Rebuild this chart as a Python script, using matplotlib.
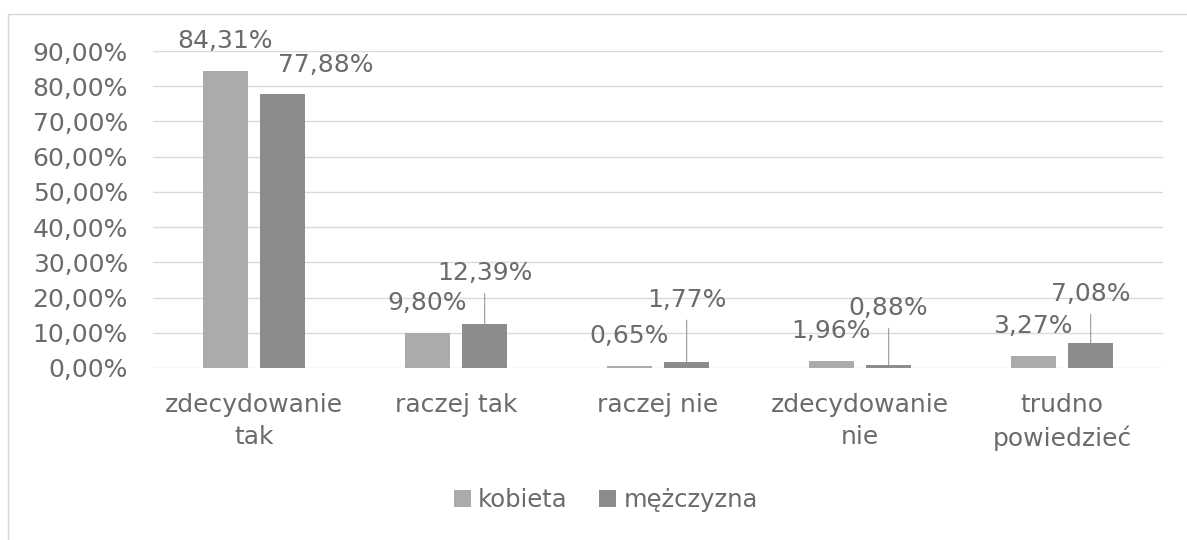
import matplotlib
matplotlib.use("Agg")
import matplotlib.pyplot as plt
from matplotlib.patches import Rectangle
import numpy as np

# Data
categories = ["zdecydowanie\ntak", "raczej tak", "raczej nie", "zdecydowanie\nnie", "trudno\npowiedzieć"]
kobieta = [84.31, 9.80, 0.65, 1.96, 3.27]
mezczyzna = [77.88, 12.39, 1.77, 0.88, 7.08]
series_names = ["kobieta", "mężczyzna"]

# label offsets in pixels (dx, dy) from bar top to label centre for men's series
m_offsets = [(43, 29), (0, 51), (0, 62), (0, 57), (0, 49)]
m_leader = [False, True, True, True, True]

txt = "#6b6b6b"
col_k = "#ababab"
col_m = "#8c8c8c"
fs = 18

fig = plt.figure(figsize=(11.87, 5.4), dpi=100)
ax = fig.add_axes([153/1187, 1-368/540, 1010/1187, 317/540])

x = np.arange(len(categories))
w = 0.22
off = 0.142
ax.bar(x - off, kobieta, w, color=col_k, label=series_names[0], zorder=3)
ax.bar(x + off, mezczyzna, w, color=col_m, label=series_names[1], zorder=3)

ax.set_xlim(-0.5, len(categories) - 0.5)
ax.set_ylim(0, 90)
ax.set_yticks(np.arange(0, 91, 10))
ax.set_yticklabels([f"{v:.2f}%".replace(".", ",") for v in np.arange(0, 91, 10)])
ax.set_xticks(x)
ax.set_xticklabels(categories, linespacing=1.4)
ax.grid(axis="y", color="#dadada", lw=1, zorder=0)
for s in ax.spines.values():
    s.set_visible(False)
ax.tick_params(axis="both", length=0, labelcolor=txt, labelsize=fs)
ax.tick_params(axis="y", pad=18)
ax.tick_params(axis="x", pad=18)

def fmt(v):
    return f"{v:.2f}%".replace(".", ",")

for i, v in enumerate(kobieta):
    ax.annotate(fmt(v), xy=(i - off, v), xytext=(0, 30), textcoords="offset pixels",
                ha="center", va="center", color=txt, fontsize=fs)

for i, v in enumerate(mezczyzna):
    dx, dy = m_offsets[i]
    props = None
    if m_leader[i]:
        props = dict(arrowstyle="-", color="#999999", lw=0.8, shrinkA=4, shrinkB=0,
                     relpos=(0.5, 0))
    ax.annotate(fmt(v), xy=(i + off, v), xytext=(dx, dy), textcoords="offset pixels",
                ha="center", va="center", color=txt, fontsize=fs, arrowprops=props)

fig.legend(loc="center", bbox_to_anchor=(606/1187, 1-500/540), ncol=2, frameon=False,
           fontsize=fs - 0.5, labelcolor=txt, handlelength=0.7, handleheight=0.7,
           handletextpad=0.3, columnspacing=1.3)

# outer chart border
fig.patches.append(Rectangle((8/1187, -0.1), 1.2, 1.1 - 14/540, transform=fig.transFigure,
                             fill=False, ec="#d6d6d6", lw=1))

fig.savefig("out.png", dpi=100)
